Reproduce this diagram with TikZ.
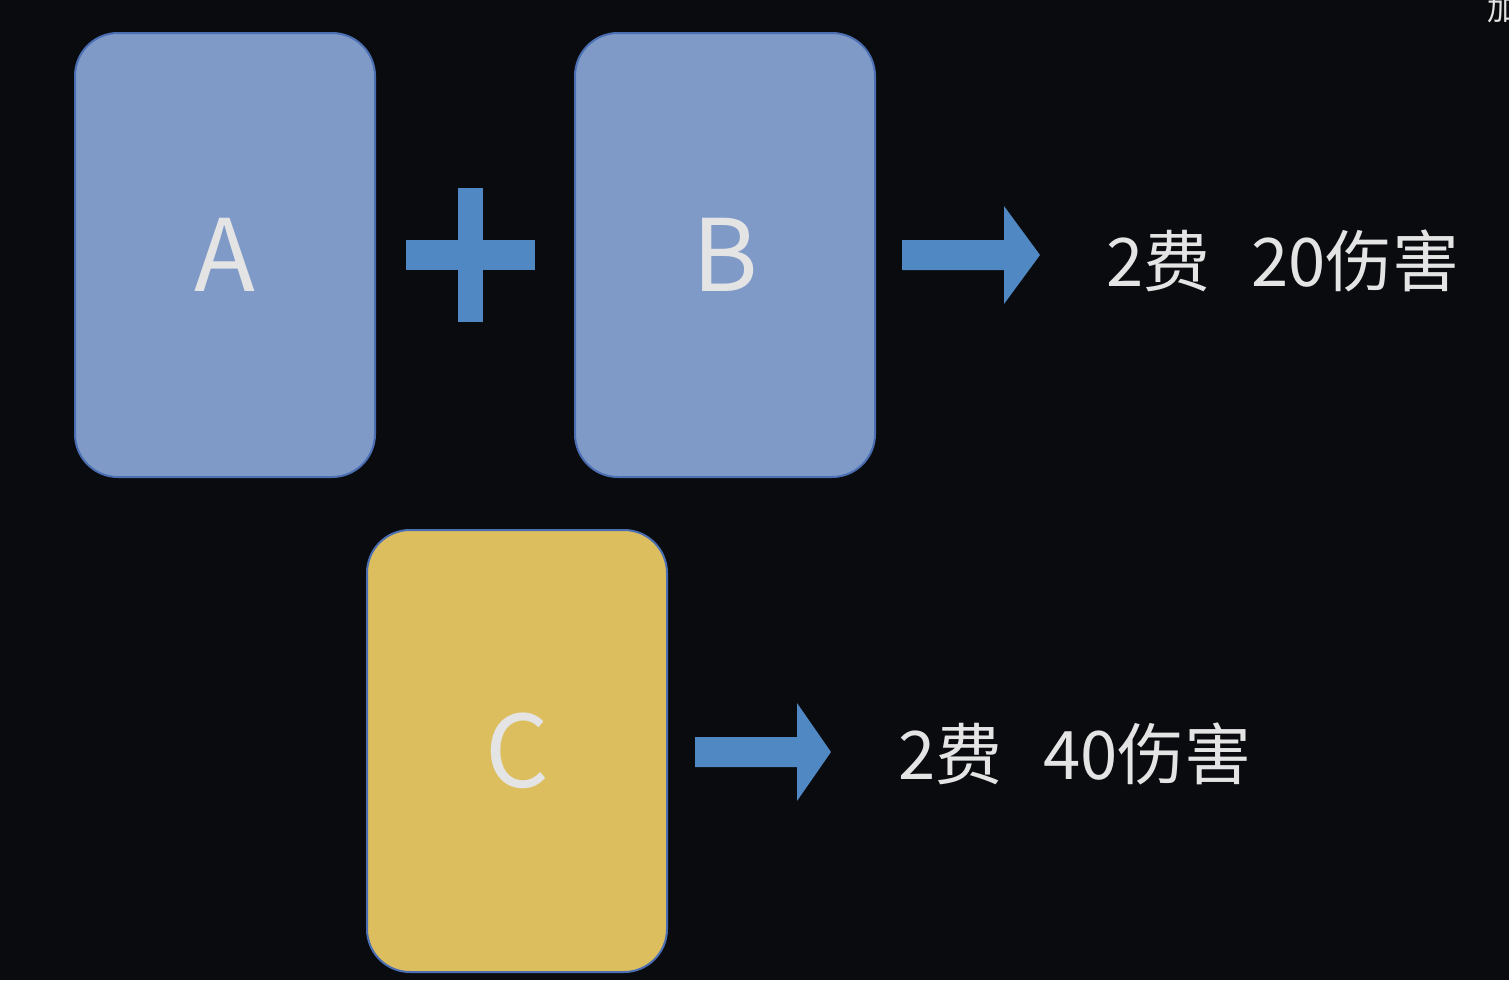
\documentclass[tikz,border=0pt]{standalone}
\usepackage{fontspec}
\newfontfamily\cjk{Noto Sans CJK SC}
\definecolor{bgc}{HTML}{0A0B0F}
\definecolor{cardblue}{HTML}{809AC8}
\definecolor{cardyellow}{HTML}{DDBE5E}
\definecolor{cardline}{HTML}{4C6FB3}
\definecolor{accent}{HTML}{4F88C2}
\definecolor{txt}{HTML}{E4E4E4}
\tikzset{
  card/.style={draw=cardline, line width=2pt, rounded corners=43pt,
    minimum width=300pt, minimum height=444pt, inner sep=0pt,
    text=txt, font=\cjk\fontsize{100}{100}\selectfont},
  result/.style={anchor=base west, inner sep=0pt, text=txt,
    font=\cjk\fontsize{67}{72}\selectfont},
  blockarrow/.style={fill=accent}
}
\begin{document}
\begin{tikzpicture}[x=1pt,y=-1pt]
\useasboundingbox (0,0) rectangle (1509,980);
\fill[bgc] (0,0) rectangle (1509,980);
% cards
\node[card, fill=cardblue] (A) at (225,255) {A};
\node[card, fill=cardblue] (B) at (725,255) {B};
\node[card, fill=cardyellow, minimum height=442pt] (C) at (517,751) {C};
% plus sign
\fill[accent] (406,240) rectangle (535,270);
\fill[accent] (458,188) rectangle (483,322);
% arrows
\fill[blockarrow] (902,240) -- (1004,240) -- (1004,206) -- (1040,255)
  -- (1004,304) -- (1004,270) -- (902,270) -- cycle;
\fill[blockarrow] (695,737) -- (797,737) -- (797,703) -- (831,752)
  -- (797,801) -- (797,767) -- (695,767) -- cycle;
% results
\node[result] (r1) at (1106,286) {2费\hspace{41pt}20伤害};
\node[result] (r2) at (898,779) {2费\hspace{41pt}40伤害};
% cut-off character at the top right
\node[anchor=base west, inner sep=0pt, text=txt, font=\cjk\fontsize{30}{30}\selectfont] (jia) at (1487,20) {加};
\end{tikzpicture}
\end{document}
